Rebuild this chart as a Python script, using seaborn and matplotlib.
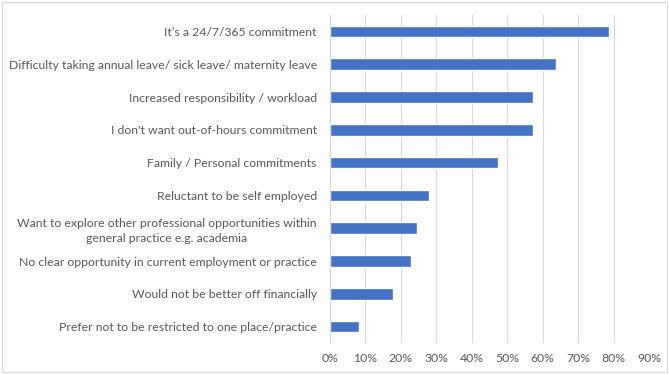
import matplotlib
matplotlib.use("Agg")
import matplotlib.pyplot as plt
from matplotlib.ticker import PercentFormatter
from matplotlib.patches import Rectangle
import seaborn as sns
import pandas as pd

categories = [
    "It\u2019s a 24/7/365 commitment",
    "Difficulty taking annual leave/ sick leave/ maternity leave",
    "Increased responsibility / workload",
    "I don't want out-of-hours commitment",
    "Family / Personal commitments",
    "Reluctant to be self employed",
    "Want to explore other professional opportunities within\ngeneral practice e.g. academia",
    "No clear opportunity in current employment or practice",
    "Would not be better off financially",
    "Prefer not to be restricted to one place/practice",
]
values = [78.6, 63.9, 57.3, 57.3, 47.4, 27.8, 24.5, 22.9, 17.9, 8.1]
tick_values = [0, 10, 20, 30, 40, 50, 60, 70, 80, 90]

df = pd.DataFrame({"reason": categories, "pct": values})

sns.set_theme(style="white")
plt.rcParams["font.family"] = ["Lato", "DejaVu Sans"]

fig = plt.figure(figsize=(6.69, 3.75), dpi=100)
ax = fig.add_axes([330 / 669, (375 - 343) / 375, 319 / 669, 328 / 375])

sns.barplot(data=df, y="reason", x="pct", orient="h", color="#4472C4",
            width=0.35, saturation=1, ax=ax)

ax.set_xlim(0, 90)
ax.set_ylim(len(categories) - 0.5, -0.5)
ax.set_xticks(tick_values)
ax.xaxis.set_major_formatter(PercentFormatter(decimals=0))
ax.grid(axis="x", color="#D9D9D9", linewidth=0.8)
ax.set_axisbelow(True)
for s in ["top", "right", "bottom"]:
    ax.spines[s].set_visible(False)
ax.spines["left"].set_color("#D9D9D9")
ax.spines["left"].set_linewidth(0.8)
ax.set_xlabel("")
ax.set_ylabel("")
ax.tick_params(axis="both", length=0, labelsize=8.8, labelcolor="#595959")
ax.tick_params(axis="y", pad=9.5)
ax.tick_params(axis="x", pad=7)
for lab in ax.get_yticklabels():
    lab.set_multialignment("center")
    lab.set_linespacing(1.45)

fig.patches.append(Rectangle((2 / 669, 3 / 375), 665 / 669, 370 / 375,
                             transform=fig.transFigure, fill=False,
                             edgecolor="#D9D9D9", linewidth=0.8))

fig.savefig("out.png", dpi=100, facecolor="white")
